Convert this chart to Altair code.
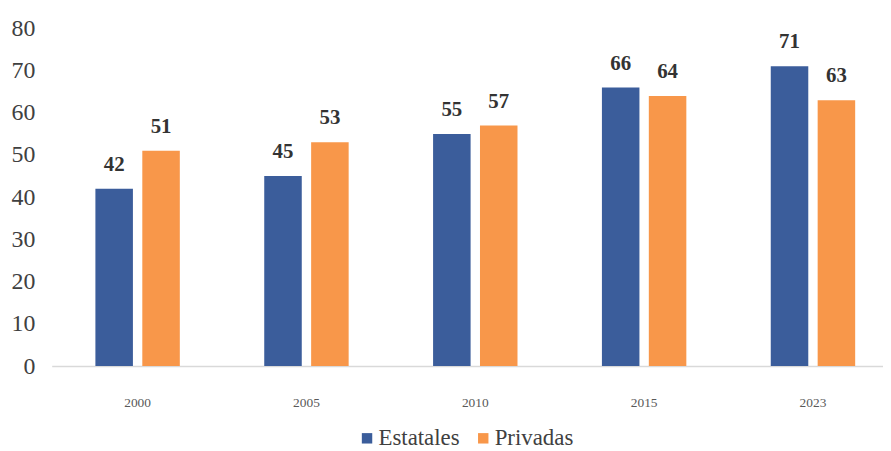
import altair as alt
import pandas as pd

years = ["2000", "2005", "2010", "2015", "2023"]
estatales = [42, 45, 55, 66, 71]
privadas = [51, 53, 57, 64, 63]
series = ["Estatales", "Privadas"]
colors = ["#3B5D9B", "#F8974A"]

rows = []
for i, y in enumerate(years):
    rows.append({"year": y, "serie": "Estatales", "value": estatales[i]})
    rows.append({"year": y, "serie": "Privadas", "value": privadas[i]})
df = pd.DataFrame(rows)

FONT = "Liberation Serif, Times New Roman, serif"

x = alt.X("year:N", sort=years,
          scale=alt.Scale(paddingInner=0.5, paddingOuter=0.2118, align=0.611),
          axis=alt.Axis(title=None, labelAngle=0, ticks=False, domainColor="#D9D9D9",
                        domainWidth=1.5, labelFont=FONT, labelFontSize=13.5,
                        labelColor="#595959", labelPadding=30))
xo = alt.XOffset("serie:N", sort=series, scale=alt.Scale(paddingInner=0.2, paddingOuter=0))
y = alt.Y("value:Q", scale=alt.Scale(domain=[0, 80], nice=False),
          axis=alt.Axis(title=None, values=list(range(0, 81, 10)), grid=False, domain=False,
                        ticks=False, labelFont=FONT, labelFontSize=24, labelColor="#404040",
                        labelPadding=17))
color = alt.Color("serie:N", sort=series, scale=alt.Scale(domain=series, range=colors),
                  legend=alt.Legend(title=None, orient="none", direction="horizontal",
                                    legendX=306, legendY=401, symbolType="square",
                                    symbolSize=110, symbolStrokeWidth=0, labelFont=FONT,
                                    labelFontSize=23, labelColor="#404040", columnPadding=12,
                                    labelOffset=0, labelLimit=200))

bars = alt.Chart(df).mark_bar().encode(x=x, xOffset=xo, y=y, color=color)
labels = alt.Chart(df).mark_text(baseline="bottom", dy=-14, font=FONT, fontSize=21,
                                 fontWeight="bold", color="#333333").encode(
    x=alt.X("year:N", sort=years), xOffset=alt.XOffset("serie:N", sort=series),
    y="value:Q", text="value:Q")

chart = alt.layer(bars, labels).properties(
    width=837, height=340,
    autosize=alt.AutoSizeParams(type="none"),
    padding={"left": 44, "top": 19, "right": 0, "bottom": 84},
).configure_view(stroke=None).configure_legend(labelFont=FONT)

chart.save("out.html", embed_options={"renderer": "svg", "actions": False})
